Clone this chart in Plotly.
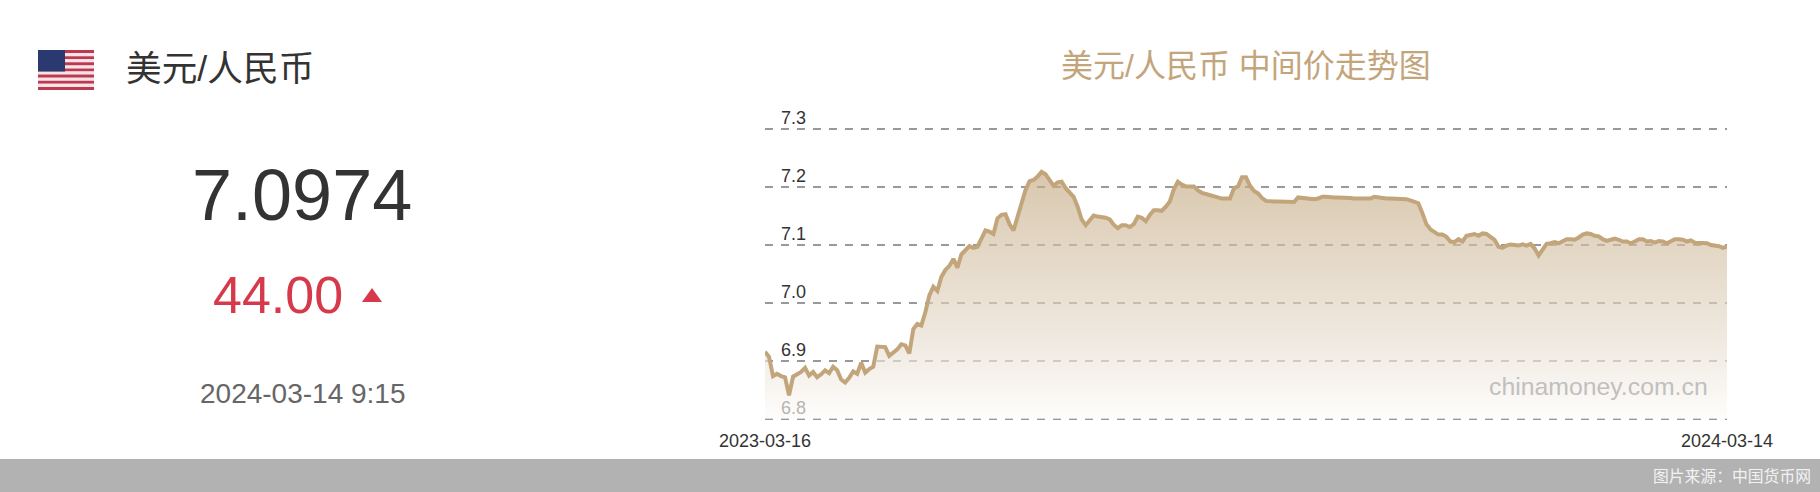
import plotly.graph_objects as go

W, H = 1820, 492

# ---- data ----
rates = [
6.916,6.907,6.874,6.878,6.874,6.872,6.841,6.873,6.877,6.881,6.888,6.875,6.881,6.872,6.877,6.884,6.879,6.890,6.884,6.868,
6.863,6.871,6.882,6.878,6.897,6.880,6.886,6.890,6.925,6.924,6.924,6.909,6.915,6.920,6.929,6.927,6.913,6.955,6.964,6.961,
6.984,7.013,7.028,7.021,7.045,7.057,7.064,7.076,7.061,7.084,7.091,7.098,7.095,7.097,7.111,7.125,7.123,7.119,7.146,7.152,
7.153,7.136,7.125,7.149,7.175,7.195,7.210,7.212,7.218,7.226,7.222,7.212,7.202,7.208,7.209,7.198,7.191,7.183,7.166,7.144,
7.134,7.144,7.151,7.149,7.148,7.147,7.144,7.135,7.129,7.134,7.134,7.131,7.136,7.149,7.147,7.141,7.152,7.160,7.160,7.159,
7.166,7.175,7.196,7.209,7.204,7.201,7.201,7.201,7.194,7.190,7.188,7.186,7.183,7.182,7.180,7.180,7.180,7.198,7.201,7.217,
7.217,7.202,7.193,7.189,7.181,7.176,7.175,7.175,7.175,7.175,7.175,7.174,7.174,7.182,7.181,7.180,7.180,7.179,7.180,7.183,
7.183,7.182,7.182,7.182,7.182,7.182,7.181,7.180,7.180,7.180,7.180,7.180,7.183,7.182,7.180,7.180,7.180,7.180,7.179,7.179,
7.179,7.177,7.175,7.172,7.155,7.136,7.127,7.122,7.118,7.118,7.114,7.106,7.105,7.110,7.106,7.116,7.118,7.119,7.116,7.120,
7.119,7.114,7.109,7.097,7.095,7.099,7.101,7.100,7.099,7.101,7.099,7.102,7.094,7.082,7.091,7.102,7.103,7.105,7.103,7.106,
7.110,7.110,7.109,7.113,7.118,7.120,7.119,7.116,7.115,7.110,7.107,7.109,7.111,7.109,7.106,7.106,7.103,7.106,7.110,7.110,
7.106,7.107,7.104,7.107,7.106,7.103,7.106,7.110,7.110,7.109,7.106,7.108,7.104,7.104,7.104,7.103,7.100,7.099,7.098,7.095,7.0974,
]
y_ticks = [6.8, 6.9, 7.0, 7.1, 7.2, 7.3]
y_labels = ["6.8", "6.9", "7.0", "7.1", "7.2", "7.3"]
x_labels = ["2023-03-16", "2024-03-14"]
pair_name = "美元/人民币"
chart_title = "美元/人民币 中间价走势图"
latest_rate = "7.0974"
latest_change = "44.00"
latest_time = "2024-03-14 9:15"
watermark = "chinamoney.com.cn"
source_note = "图片来源：中国货币网"

trade_days = list(range(len(rates)))
floor_rate = [y_ticks[0]] * len(rates)

LINE = "#c3a57c"
LATIN = "Liberation Sans, Noto Sans CJK SC"


def px(x):
    return x / W


def py(y):
    return 1 - y / H


# the axis runs 2 px past the first and last gridline so that both are drawn
PAD = 2 * 0.1 / 58

fig = go.Figure()
fig.add_trace(go.Scatter(
    x=trade_days, y=floor_rate, mode="lines",
    line=dict(width=0, color="rgba(0,0,0,0)"),
    hoverinfo="skip", showlegend=False,
))
fig.add_trace(go.Scatter(
    x=trade_days, y=rates, mode="lines", fill="tonexty",
    line=dict(width=0, color="rgba(0,0,0,0)"),
    fillgradient=dict(
        type="vertical", start=7.23, stop=6.8,
        colorscale=[
            [0, "rgba(196,169,129,0.65)"],
            [0.72, "rgba(233,224,212,0.65)"],
            [1, "rgba(254,252,250,0.65)"],
        ],
    ),
    hoverinfo="skip", showlegend=False,
))
fig.add_trace(go.Scatter(
    x=trade_days, y=rates, mode="lines", cliponaxis=False,
    line=dict(width=4, color=LINE), showlegend=False,
))

shapes = []
# band at the bottom
shapes.append(dict(type="rect", xref="paper", yref="paper", x0=0, x1=1, y0=0, y1=py(459),
                   fillcolor="#b2b2b2", line_width=0, layer="below"))
# flag
fx0, fx1, fy0, fy1 = 38, 94, 50, 90
sh = (fy1 - fy0) / 13
for s in range(13):
    shapes.append(dict(type="rect", xref="paper", yref="paper", x0=px(fx0), x1=px(fx1),
                       y0=py(fy0 + s * sh), y1=py(fy0 + (s + 1) * sh),
                       fillcolor="#bb3a52" if s % 2 == 0 else "#f5e3e6", line_width=0))
shapes.append(dict(type="rect", xref="paper", yref="paper", x0=px(fx0), x1=px(65),
                   y0=py(fy0), y1=py(fy0 + 7 * sh), fillcolor="#2a3a70", line_width=0))
# up triangle
shapes.append(dict(type="path", xref="paper", yref="paper",
                   path=f"M {px(362)} {py(302)} L {px(382)} {py(302)} L {px(372)} {py(288)} Z",
                   fillcolor="#d63a4a", line_width=0))


def note(x, y, text, size, color, family=LATIN, xanchor="center"):
    return dict(x=px(x), y=py(y), xref="paper", yref="paper", text=text, showarrow=False,
                xanchor=xanchor, yanchor="middle",
                font=dict(size=size, color=color, family=family))


annotations = [
    note(124, 69, pair_name, 35.7, "#333333", xanchor="left"),
    note(302, 195, latest_rate, 72, "#333333"),
    note(277.5, 295, latest_change, 52, "#d63a4a"),
    note(303, 393, latest_time, 28, "#666666"),
    note(1246, 66, chart_title, 32, LINE),
    note(1710, 386, watermark, 24.8, "#c0c0c0", xanchor="right"),
    note(1813, 476, source_note, 15.8, "#f2f2f2", xanchor="right"),
]

fig.update_layout(
    width=W, height=H, margin=dict(l=0, r=0, t=0, b=0), autosize=False,
    paper_bgcolor="white", plot_bgcolor="white",
    shapes=shapes, annotations=annotations, hovermode=False,
    xaxis=dict(
        domain=[px(765), px(1727)], range=[0, len(rates) - 1], type="linear",
        tickmode="array", tickvals=[trade_days[0], trade_days[-1]], ticktext=x_labels,
        showgrid=False, zeroline=False, showline=False, ticks="",
        tickfont=dict(size=18, color="#333333", family=LATIN),
        anchor="y", automargin=False, ticklabelstandoff=7,
    ),
    yaxis=dict(
        domain=[py(421), py(127)], range=[y_ticks[0] - PAD, y_ticks[-1] + PAD],
        tickmode="array", tickvals=y_ticks, ticktext=y_labels,
        showgrid=True, gridcolor="#999999", griddash="8px,8px", gridwidth=1.6,
        zeroline=False, showline=False, ticks="", layer="below traces",
        ticklabelposition="outside", ticklabelstandoff=-42, ticklabelshift=-11,
        tickfont=dict(size=18, color="#333333", family=LATIN),
        anchor="x", automargin=False,
    ),
)

fig.write_html("out.html", config={"displayModeBar": False},
               post_script="document.body.style.margin='0';")
